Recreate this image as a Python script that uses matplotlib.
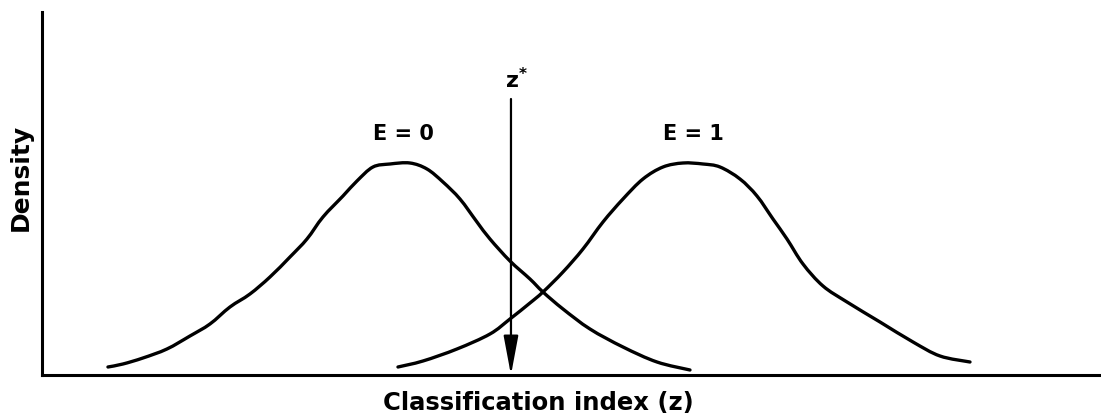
import matplotlib
matplotlib.use('Agg')
import matplotlib.pyplot as plt
from matplotlib.path import Path
from matplotlib.patches import PathPatch

# density curves for the two groups, E = 0 and E = 1
z_e0 = [0.66, 0.81, 1.01, 1.25, 1.48, 1.68, 1.88, 2.08, 2.28, 2.48, 2.65, 2.81,
        3.01, 3.15, 3.31, 3.48, 3.68, 3.85, 4.01, 4.18, 4.35, 4.48, 4.68, 4.88,
        5.01, 5.21, 5.48, 5.81, 6.15, 6.48]
d_e0 = [0.04, 0.055, 0.085, 0.13, 0.195, 0.255, 0.34, 0.405, 0.49, 0.59, 0.68, 0.79,
        0.895, 0.97, 1.04, 1.055, 1.06, 1.03, 0.965, 0.88, 0.765, 0.68, 0.57, 0.48,
        0.415, 0.33, 0.23, 0.14, 0.065, 0.025]

z_e1 = [3.56, 3.81, 4.15, 4.48, 4.68, 4.88, 5.01, 5.21, 5.41, 5.61, 5.81, 6.01,
        6.21, 6.41, 6.61, 6.78, 6.98, 7.15, 7.31, 7.45, 7.61, 7.81, 8.05, 8.38,
        8.71, 8.98, 9.28]
d_e1 = [0.04, 0.07, 0.13, 0.205, 0.28, 0.36, 0.415, 0.515, 0.63, 0.765, 0.88, 0.98,
        1.04, 1.06, 1.055, 1.04, 0.98, 0.895, 0.78, 0.68, 0.555, 0.445, 0.365, 0.265,
        0.165, 0.095, 0.065]

z_star = 4.69


def smooth_path(xs, ys):
    # Catmull-Rom through the points, written as cubic Bezier segments
    pts = list(zip(xs, ys))
    n = len(pts)
    verts = [pts[0]]
    codes = [Path.MOVETO]
    for i in range(n - 1):
        p0 = pts[max(i - 1, 0)]
        p1 = pts[i]
        p2 = pts[i + 1]
        p3 = pts[min(i + 2, n - 1)]
        c1 = (p1[0] + (p2[0] - p0[0]) / 6, p1[1] + (p2[1] - p0[1]) / 6)
        c2 = (p2[0] - (p3[0] - p1[0]) / 6, p2[1] - (p3[1] - p1[1]) / 6)
        verts += [c1, c2, p2]
        codes += [Path.CURVE4] * 3
    return Path(verts, codes)


plt.rcParams['font.family'] = 'DejaVu Sans'
plt.rcParams['mathtext.fontset'] = 'dejavusans'

fig = plt.figure(figsize=(11.01, 4.14), dpi=100)
ax = fig.add_axes([0.0381, 0.0918, 0.9619, 0.8768])

for xs, ys in [(z_e0, d_e0), (z_e1, d_e1)]:
    ax.add_patch(PathPatch(smooth_path(xs, ys), fill=False, edgecolor='black',
                           lw=2.4, capstyle='round', joinstyle='round'))

# cutoff arrow
ax.annotate('', xy=(z_star, 0), xytext=(z_star, 1.38),
            arrowprops=dict(arrowstyle='-|>,head_length=2.4,head_width=0.45',
                            lw=1.6, color='black', shrinkA=0, shrinkB=0,
                            mutation_scale=10))
ax.text(z_star - 0.06, 1.44, r'$\mathbf{z^{*}}$', fontsize=16, ha='left', va='baseline')

ax.text(3.61, 1.21, 'E = 0', fontsize=15, fontweight='bold', ha='center', va='center')
ax.text(6.51, 1.21, 'E = 1', fontsize=15, fontweight='bold', ha='center', va='center')

ax.set_xlim(0, 10.59)
ax.set_ylim(0, 1.815)
for side in ['top', 'right']:
    ax.spines[side].set_visible(False)
for side in ['left', 'bottom']:
    ax.spines[side].set_linewidth(2.2)
ax.set_xticks([])
ax.set_yticks([])

ax.text(0.469, -0.074, 'Classification index (z)', transform=ax.transAxes,
        fontsize=17.5, fontweight='bold', ha='center', va='center')
ax.text(-0.0198, 0.548, 'Density', transform=ax.transAxes, rotation=90,
        fontsize=18, fontweight='bold', ha='center', va='center')

fig.savefig('out.png', dpi=100)
